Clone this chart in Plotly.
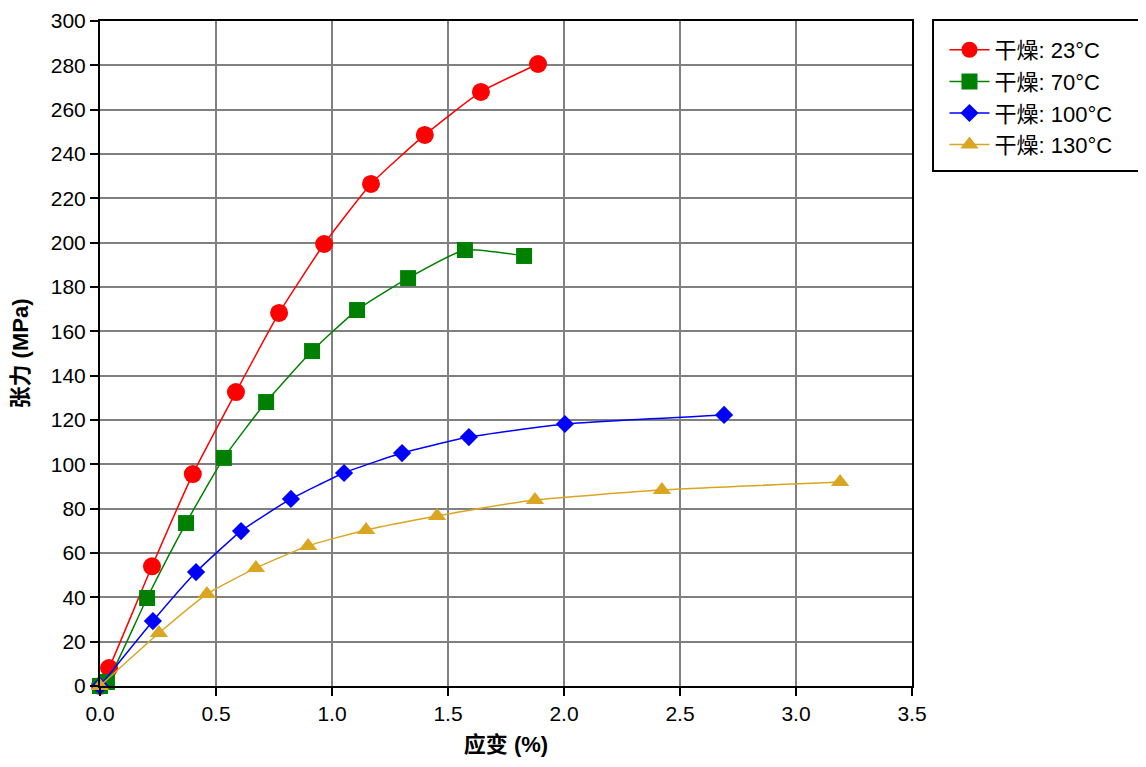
import plotly.graph_objects as go

red_x = [0.0, 0.039, 0.224, 0.40, 0.586, 0.772, 0.966, 1.168, 1.40, 1.642, 1.888]
red_y = [0.0, 8.1, 54.0, 95.6, 132.6, 168.3, 199.4, 226.5, 248.6, 268.0, 280.6]

green_x = [0.0, 0.03, 0.203, 0.371, 0.534, 0.716, 0.914, 1.108, 1.328, 1.573, 1.828]
green_y = [0.0, 1.8, 39.7, 73.5, 102.9, 128.1, 151.1, 169.6, 184.0, 196.7, 194.0]

blue_x = [0.0, 0.228, 0.414, 0.608, 0.823, 1.052, 1.302, 1.59, 2.004, 2.69]
blue_y = [0.0, 29.3, 51.4, 69.9, 84.4, 96.1, 105.1, 112.3, 118.2, 122.3]

gold_x = [0.0, 0.254, 0.461, 0.672, 0.897, 1.147, 1.453, 1.875, 2.422, 3.19]
gold_y = [0.0, 23.9, 41.5, 53.2, 63.2, 70.4, 76.7, 83.9, 88.4, 92.0]

names = ["干燥: 23°C", "干燥: 70°C", "干燥: 100°C", "干燥: 130°C"]
x_title = "应变 (%)"
y_title = "张力 (MPa)"

series = [
    (red_x, red_y, names[0], "#ff0000", "circle", 18),
    (green_x, green_y, names[1], "#008000", "square", 16),
    (blue_x, blue_y, names[2], "#0000ff", "diamond", 14),
    (gold_x, gold_y, names[3], "#daa520", "triangle-up", 16),
]

fig = go.Figure()
for xs, ys, nm, col, sym, sz in series:
    fig.add_trace(go.Scatter(
        x=xs, y=ys, name=nm, mode="lines+markers",
        line=dict(color=col, width=1.5, shape="spline", smoothing=0.5),
        marker=dict(color=col, symbol=sym, size=sz),
        cliponaxis=False,
    ))

# legend frame (drawn as a paper-space box)
fig.add_shape(type="rect", xref="paper", yref="paper",
              x0=1.0259, x1=1.2845, y0=0.7744, y1=1.0015,
              line=dict(color="black", width=2), fillcolor="rgba(0,0,0,0)")

font_main = "Liberation Sans, Arial, Noto Sans CJK SC, sans-serif"
fig.update_layout(
    width=1146, height=767,
    margin=dict(l=92, r=242, t=13, b=89, autoexpand=False),
    paper_bgcolor="white", plot_bgcolor="white",
    font=dict(family=font_main, size=21, color="black"),
    legend=dict(
        x=1.040, y=0.988, xanchor="left", yanchor="top",
        borderwidth=0, bgcolor="rgba(0,0,0,0)",
        font=dict(size=22), itemwidth=40, tracegroupgap=0,
    ),
    xaxis=dict(
        range=[0, 3.5], dtick=0.5, tickformat=".1f", automargin=False,
        showline=True, linecolor="black", linewidth=2, mirror=True,
        ticks="outside", ticklen=8, tickwidth=2, tickcolor="black",
        showgrid=True, gridcolor="#808080", gridwidth=2,
        zeroline=False,
        title=dict(text="<b>" + x_title + "</b>", font=dict(size=22), standoff=12),
    ),
    yaxis=dict(
        range=[0, 300], dtick=20, automargin=False,
        showline=True, linecolor="black", linewidth=2, mirror=True,
        ticks="outside", ticklen=8, tickwidth=2, tickcolor="black",
        showgrid=True, gridcolor="#808080", gridwidth=2,
        zeroline=False,
        title=dict(text="<b>" + y_title + "</b>", font=dict(size=22), standoff=18),
    ),
)

fig.write_html("out.html")
